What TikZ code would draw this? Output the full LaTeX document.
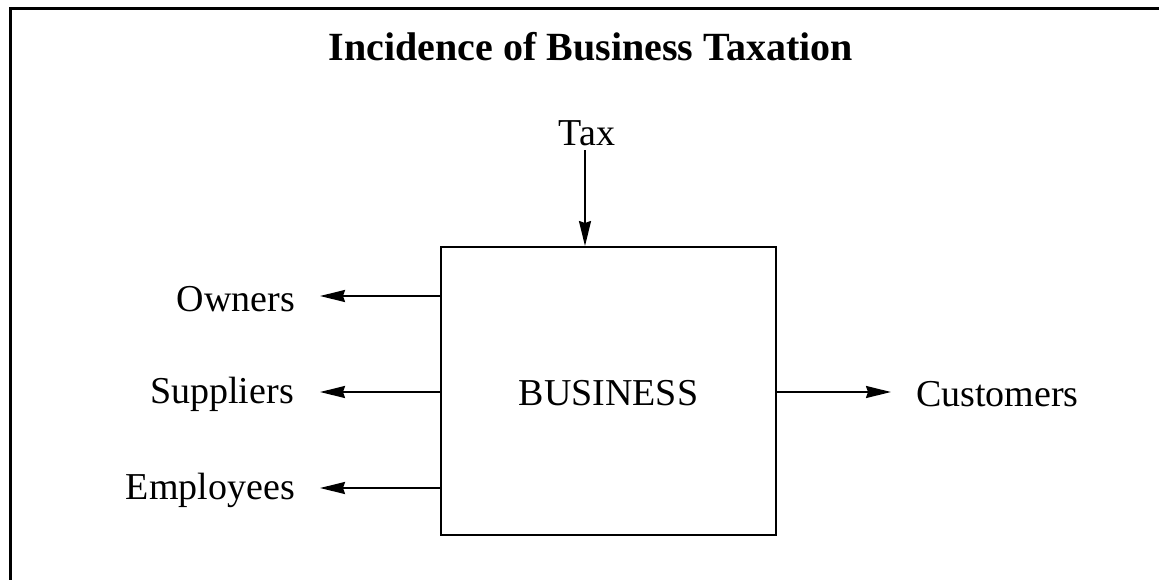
\documentclass[tikz,border=0pt]{standalone}
\usepackage{fontspec}
\setmainfont{Liberation Serif}
\usetikzlibrary{arrows.meta}
\begin{document}
\begin{tikzpicture}[x=1pt,y=-1pt,
  lbl/.style={font=\fontsize{38}{40}\selectfont, inner sep=0pt},
  conn/.style={line width=2pt, -{Stealth[length=25pt,width=12pt,inset=2pt]}},
  bizbox/.style={draw, line width=2pt, minimum width=335pt, minimum height=288pt, inner sep=0pt}]
\useasboundingbox (0,0) rectangle (1159,579);
\draw[line width=3pt] (10,650) -- (10,8) -- (1200,8);
\node[font=\fontsize{40}{44}\selectfont\bfseries, inner sep=0pt] (title) at (591,47) {Incidence of Business Taxation};
\node[bizbox] (biz) at (608.5,391) {};
\node[lbl] (bizlbl) at (608.5,393) {BUSINESS};
\node[lbl] (tax) at (587,133) {Tax};
\node[lbl, anchor=east] (own) at (295,299) {Owners};
\node[lbl, anchor=east] (sup) at (294,394) {Suppliers};
\node[lbl, anchor=east] (emp) at (295,490) {Employees};
\node[lbl, anchor=west] (cus) at (916,394) {Customers};
\coordinate (taxs) at (585,150);
\coordinate (owne) at (320,296);
\coordinate (supe) at (320,392);
\coordinate (empe) at (320,488);
\coordinate (cuse) at (891,392);
\draw[conn] (taxs) -- (taxs |- biz.north);
\draw[conn] (biz.west |- owne) -- (owne);
\draw[conn] (biz.west |- supe) -- (supe);
\draw[conn] (biz.west |- empe) -- (empe);
\draw[conn] (biz.east |- cuse) -- (cuse);
\end{tikzpicture}
\end{document}
